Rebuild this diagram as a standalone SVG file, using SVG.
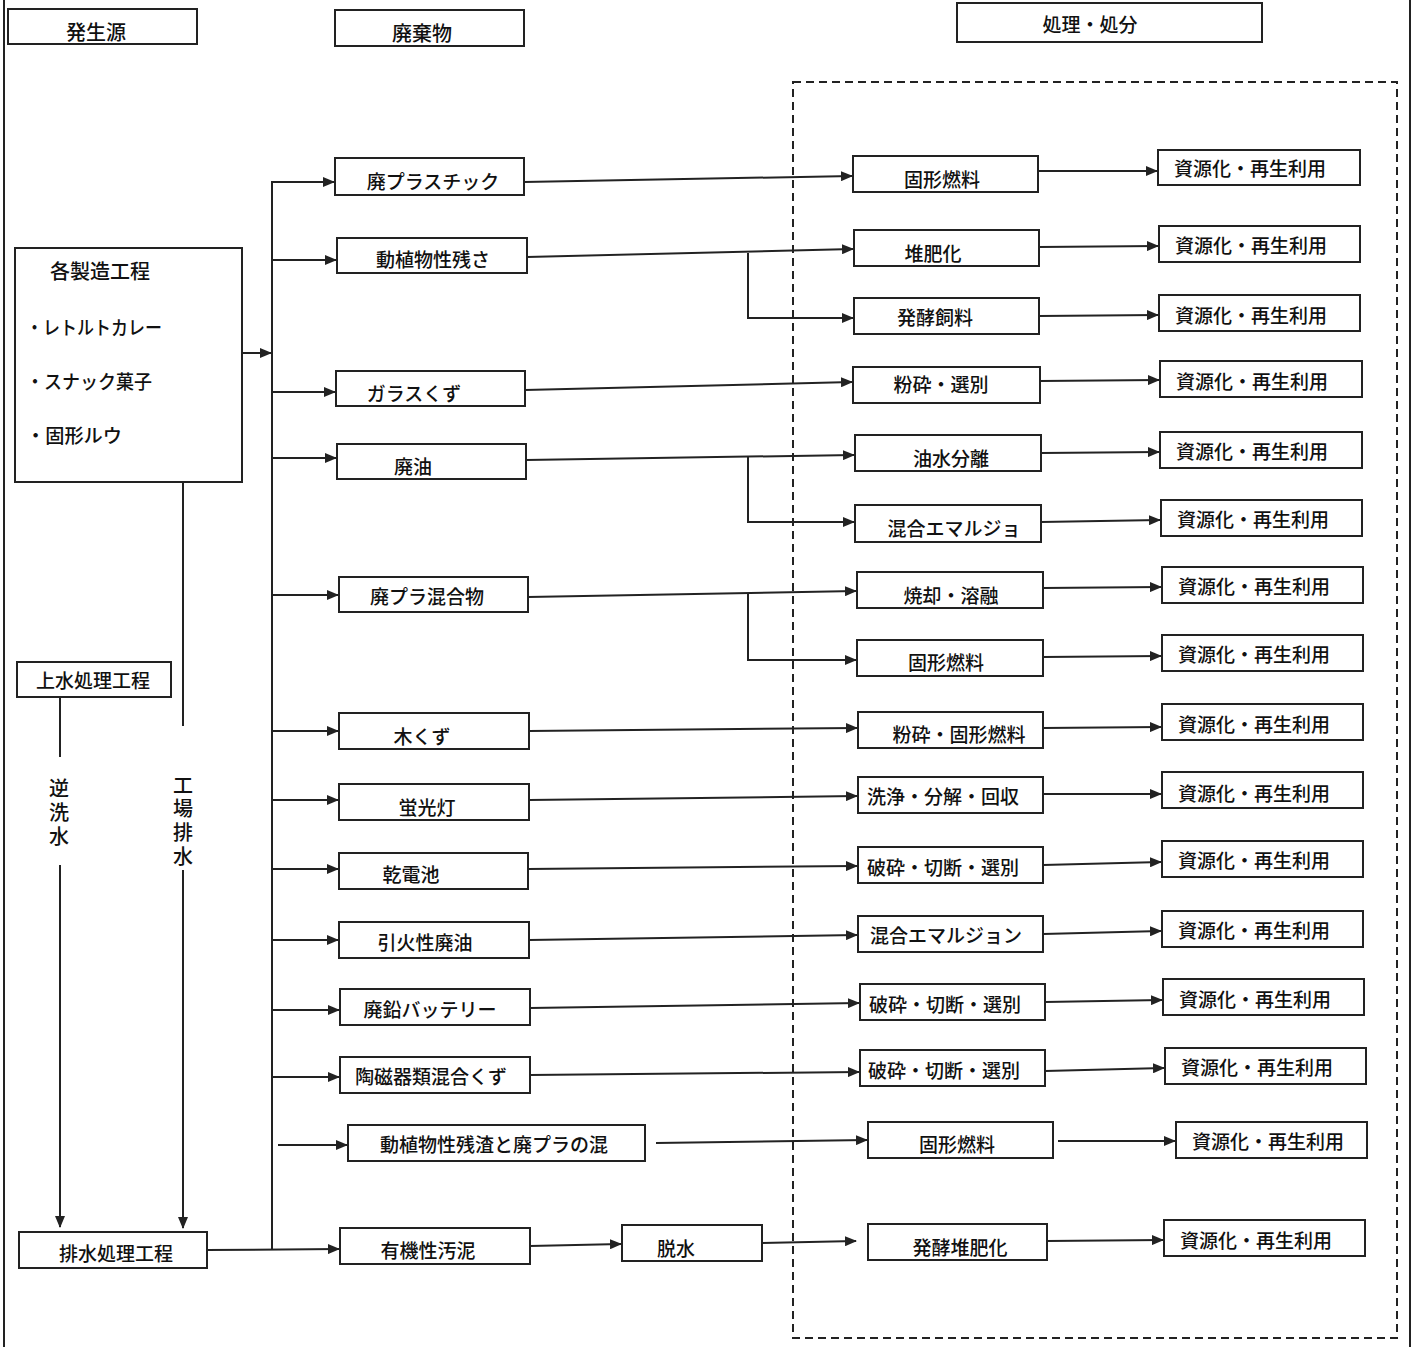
<svg xmlns="http://www.w3.org/2000/svg" width="1415" height="1347" viewBox="0 0 1415 1347">
<style>
.box{fill:#fff;stroke:#222;stroke-width:2}
.t{font-family:"Noto Sans CJK JP","Noto Sans CJK SC",sans-serif;font-size:19px;fill:#111;font-weight:500}
.c{text-anchor:middle}
.v{writing-mode:tb;font-size:20px}
.ln{stroke:#222;stroke-width:2;fill:none}
.ar{stroke:#222;stroke-width:2;fill:none;marker-end:url(#ah)}
.dash{fill:none;stroke:#222;stroke-width:2;stroke-dasharray:8 5}
</style>
<defs>
<marker id="ah" markerWidth="12" markerHeight="10" refX="11" refY="5" orient="auto" markerUnits="userSpaceOnUse"><path d="M0,0 L12,5 L0,10 z" fill="#222"/></marker>
</defs>
<rect width="1415" height="1347" fill="#fff"/>
<line class="ln" x1="4" y1="0" x2="4" y2="1347"/>
<line class="ln" x1="1410" y1="0" x2="1410" y2="1347"/>
<rect class="dash" x="793" y="82" width="604" height="1256"/>

<g id="connectors">
<line class="ln" x1="272" y1="181" x2="272" y2="1250"/>
<line class="ar" x1="242" y1="353" x2="271" y2="353"/>
<line class="ln" x1="183" y1="482" x2="183" y2="726"/>
<line class="ar" x1="183" y1="870" x2="183" y2="1228"/>
<line class="ln" x1="60" y1="697" x2="60" y2="757"/>
<line class="ar" x1="60" y1="865" x2="60" y2="1227"/>
<line class="ar" x1="207" y1="1250" x2="339" y2="1249"/>
<line class="ar" x1="272" y1="182" x2="334" y2="182"/>
<line class="ar" x1="272" y1="260" x2="336" y2="260"/>
<line class="ar" x1="272" y1="392" x2="335" y2="392"/>
<line class="ar" x1="272" y1="458" x2="336" y2="458"/>
<line class="ar" x1="272" y1="595" x2="338" y2="595"/>
<line class="ar" x1="272" y1="731" x2="338" y2="731"/>
<line class="ar" x1="272" y1="800" x2="338" y2="800"/>
<line class="ar" x1="272" y1="869" x2="338" y2="869"/>
<line class="ar" x1="272" y1="940" x2="338" y2="940"/>
<line class="ar" x1="272" y1="1010" x2="339" y2="1010"/>
<line class="ar" x1="272" y1="1077" x2="339" y2="1077"/>
<line class="ar" x1="278" y1="1145" x2="347" y2="1145"/>
<line class="ar" x1="530" y1="1246" x2="621" y2="1244"/>
<line class="ar" x1="524" y1="182" x2="852" y2="176"/>
<line class="ar" x1="527" y1="257" x2="853" y2="249"/>
<polyline class="ar" points="748,253 748,318 853,318"/>
<line class="ar" x1="525" y1="390" x2="852" y2="382"/>
<line class="ar" x1="526" y1="460" x2="854" y2="455"/>
<polyline class="ar" points="748,457 748,522 854,522"/>
<line class="ar" x1="528" y1="597" x2="856" y2="591"/>
<polyline class="ar" points="748,593 748,660 856,660"/>
<line class="ar" x1="529" y1="731" x2="857" y2="728"/>
<line class="ar" x1="529" y1="800" x2="857" y2="796"/>
<line class="ar" x1="528" y1="869" x2="857" y2="866"/>
<line class="ar" x1="529" y1="940" x2="857" y2="935"/>
<line class="ar" x1="530" y1="1008" x2="859" y2="1003"/>
<line class="ar" x1="530" y1="1075" x2="859" y2="1072"/>
<line class="ar" x1="656" y1="1143" x2="867" y2="1140"/>
<line class="ar" x1="762" y1="1243" x2="856" y2="1241"/>
<line class="ar" x1="1038" y1="171" x2="1157" y2="171"/>
<line class="ar" x1="1039" y1="247" x2="1158" y2="246"/>
<line class="ar" x1="1039" y1="316" x2="1158" y2="315"/>
<line class="ar" x1="1040" y1="381" x2="1159" y2="380"/>
<line class="ar" x1="1041" y1="453" x2="1159" y2="452"/>
<line class="ar" x1="1041" y1="522" x2="1160" y2="520"/>
<line class="ar" x1="1043" y1="588" x2="1161" y2="587"/>
<line class="ar" x1="1043" y1="657" x2="1161" y2="656"/>
<line class="ar" x1="1043" y1="728" x2="1161" y2="727"/>
<line class="ar" x1="1043" y1="794" x2="1161" y2="794"/>
<line class="ar" x1="1043" y1="865" x2="1161" y2="862"/>
<line class="ar" x1="1043" y1="934" x2="1161" y2="931"/>
<line class="ar" x1="1045" y1="1002" x2="1162" y2="1000"/>
<line class="ar" x1="1045" y1="1071" x2="1164" y2="1068"/>
<line class="ar" x1="1058" y1="1141" x2="1175" y2="1141"/>
<line class="ar" x1="1047" y1="1241" x2="1163" y2="1240"/>
</g>

<g id="h-source"><rect class="box" x="8" y="9" width="189" height="35"/><text class="t c" x="96" y="40" style="font-size:20px">発生源</text></g>
<g id="h-waste"><rect class="box" x="335" y="10" width="189" height="36"/><text class="t c" x="422" y="41" style="font-size:20px">廃棄物</text></g>
<g id="h-treat"><rect class="box" x="957" y="3" width="305" height="39"/><text class="t c" x="1090" y="32">処理・処分</text></g>

<g id="n-process"><rect class="box" x="15" y="248" width="227" height="234"/>
<text class="t" x="50" y="279" style="font-size:20px">各製造工程</text>
<text class="t" x="26" y="335" textLength="136" lengthAdjust="spacingAndGlyphs">・レトルトカレー</text>
<text class="t" x="26" y="389" textLength="126" lengthAdjust="spacingAndGlyphs">・スナック菓子</text>
<text class="t" x="26" y="443" textLength="96" lengthAdjust="spacingAndGlyphs">・固形ルウ</text></g>
<g id="n-water"><rect class="box" x="17" y="662" width="154" height="35"/><text class="t c" x="93" y="688">上水処理工程</text></g>
<g id="n-drain"><rect class="box" x="19" y="1232" width="188" height="36"/><text class="t c" x="116" y="1261">排水処理工程</text></g>
<g id="l-backwash"><text class="t v" x="59" y="778" style="letter-spacing:4px">逆洗水</text></g>
<g id="l-factory"><text class="t v" x="183" y="775" style="letter-spacing:3.7px">工場排水</text></g>

<g id="w1"><rect class="box" x="335" y="158" width="189" height="37"/><text class="t c" x="433" y="189">廃プラスチック</text></g>
<g id="w2"><rect class="box" x="337" y="238" width="190" height="35"/><text class="t c" x="433" y="267">動植物性残さ</text></g>
<g id="w3"><rect class="box" x="336" y="371" width="189" height="35"/><text class="t c" x="414" y="401">ガラスくず</text></g>
<g id="w4"><rect class="box" x="337" y="444" width="189" height="35"/><text class="t c" x="413" y="474">廃油</text></g>
<g id="w5"><rect class="box" x="339" y="577" width="189" height="35"/><text class="t c" x="427" y="604">廃プラ混合物</text></g>
<g id="w6"><rect class="box" x="339" y="713" width="190" height="36"/><text class="t c" x="422" y="744">木くず</text></g>
<g id="w7"><rect class="box" x="339" y="784" width="190" height="36"/><text class="t c" x="427" y="815">蛍光灯</text></g>
<g id="w8"><rect class="box" x="339" y="853" width="189" height="36"/><text class="t c" x="411" y="882">乾電池</text></g>
<g id="w9"><rect class="box" x="339" y="922" width="190" height="36"/><text class="t c" x="425" y="950">引火性廃油</text></g>
<g id="w10"><rect class="box" x="340" y="989" width="190" height="36"/><text class="t c" x="430" y="1017">廃鉛バッテリー</text></g>
<g id="w11"><rect class="box" x="340" y="1057" width="190" height="36"/><text class="t c" x="431" y="1084">陶磁器類混合くず</text></g>
<g id="w12"><rect class="box" x="348" y="1125" width="297" height="36"/><text class="t c" x="494" y="1152">動植物性残渣と廃プラの混</text></g>
<g id="w13"><rect class="box" x="340" y="1228" width="190" height="36"/><text class="t c" x="428" y="1258">有機性汚泥</text></g>
<g id="w14"><rect class="box" x="622" y="1225" width="140" height="36"/><text class="t c" x="676" y="1256">脱水</text></g>

<g id="p1"><rect class="box" x="853" y="156" width="185" height="36"/><text class="t c" x="942" y="187">固形燃料</text></g>
<g id="p2"><rect class="box" x="854" y="230" width="185" height="36"/><text class="t c" x="933" y="261">堆肥化</text></g>
<g id="p3"><rect class="box" x="854" y="298" width="185" height="36"/><text class="t c" x="935" y="325">発酵飼料</text></g>
<g id="p4"><rect class="box" x="853" y="367" width="187" height="36"/><text class="t c" x="941" y="392">粉砕・選別</text></g>
<g id="p5"><rect class="box" x="855" y="435" width="186" height="36"/><text class="t c" x="951" y="466">油水分離</text></g>
<g id="p6"><rect class="box" x="855" y="505" width="186" height="37"/><text class="t c" x="954" y="536">混合エマルジョ</text></g>
<g id="p7"><rect class="box" x="857" y="572" width="186" height="36"/><text class="t c" x="951" y="603">焼却・溶融</text></g>
<g id="p8"><rect class="box" x="857" y="640" width="186" height="36"/><text class="t c" x="946" y="670">固形燃料</text></g>
<g id="p9"><rect class="box" x="858" y="712" width="185" height="36"/><text class="t c" x="959" y="742">粉砕・固形燃料</text></g>
<g id="p10"><rect class="box" x="858" y="777" width="185" height="36"/><text class="t c" x="943" y="804">洗浄・分解・回収</text></g>
<g id="p11"><rect class="box" x="858" y="847" width="185" height="36"/><text class="t c" x="943" y="875">破砕・切断・選別</text></g>
<g id="p12"><rect class="box" x="858" y="916" width="185" height="36"/><text class="t c" x="946" y="943">混合エマルジョン</text></g>
<g id="p13"><rect class="box" x="860" y="984" width="185" height="36"/><text class="t c" x="945" y="1012">破砕・切断・選別</text></g>
<g id="p14"><rect class="box" x="860" y="1050" width="185" height="36"/><text class="t c" x="944" y="1078">破砕・切断・選別</text></g>
<g id="p15"><rect class="box" x="868" y="1122" width="185" height="36"/><text class="t c" x="957" y="1152">固形燃料</text></g>
<g id="p16"><rect class="box" x="868" y="1224" width="179" height="36"/><text class="t c" x="960" y="1255">発酵堆肥化</text></g>

<g id="r1"><rect class="box" x="1158" y="150" width="202" height="35"/><text class="t c" x="1250" y="176">資源化・再生利用</text></g>
<g id="r2"><rect class="box" x="1159" y="226" width="201" height="36"/><text class="t c" x="1251" y="253">資源化・再生利用</text></g>
<g id="r3"><rect class="box" x="1159" y="295" width="201" height="36"/><text class="t c" x="1251" y="323">資源化・再生利用</text></g>
<g id="r4"><rect class="box" x="1160" y="361" width="202" height="36"/><text class="t c" x="1252" y="389">資源化・再生利用</text></g>
<g id="r5"><rect class="box" x="1160" y="432" width="202" height="36"/><text class="t c" x="1252" y="459">資源化・再生利用</text></g>
<g id="r6"><rect class="box" x="1161" y="500" width="201" height="36"/><text class="t c" x="1253" y="527">資源化・再生利用</text></g>
<g id="r7"><rect class="box" x="1162" y="567" width="201" height="36"/><text class="t c" x="1254" y="594">資源化・再生利用</text></g>
<g id="r8"><rect class="box" x="1162" y="635" width="201" height="36"/><text class="t c" x="1254" y="662">資源化・再生利用</text></g>
<g id="r9"><rect class="box" x="1162" y="704" width="201" height="36"/><text class="t c" x="1254" y="732">資源化・再生利用</text></g>
<g id="r10"><rect class="box" x="1162" y="772" width="201" height="36"/><text class="t c" x="1254" y="801">資源化・再生利用</text></g>
<g id="r11"><rect class="box" x="1162" y="841" width="201" height="36"/><text class="t c" x="1254" y="868">資源化・再生利用</text></g>
<g id="r12"><rect class="box" x="1162" y="911" width="201" height="36"/><text class="t c" x="1254" y="938">資源化・再生利用</text></g>
<g id="r13"><rect class="box" x="1163" y="979" width="201" height="36"/><text class="t c" x="1255" y="1007">資源化・再生利用</text></g>
<g id="r14"><rect class="box" x="1165" y="1048" width="201" height="36"/><text class="t c" x="1257" y="1075">資源化・再生利用</text></g>
<g id="r15"><rect class="box" x="1176" y="1122" width="191" height="36"/><text class="t c" x="1268" y="1149">資源化・再生利用</text></g>
<g id="r16"><rect class="box" x="1164" y="1220" width="201" height="36"/><text class="t c" x="1256" y="1248">資源化・再生利用</text></g>
</svg>
